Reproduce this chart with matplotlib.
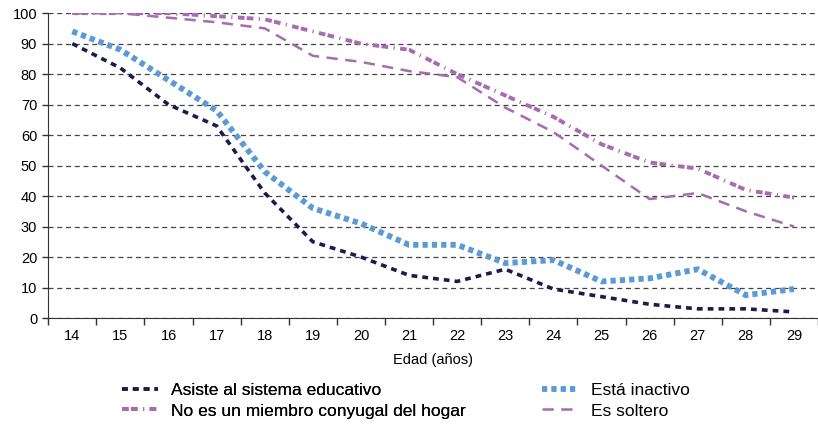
import matplotlib.pyplot as plt
import numpy as np

plt.rcParams['font.family'] = ['Liberation Sans', 'DejaVu Sans']

# Datos
edades = ['14', '15', '16', '17', '18', '19', '20', '21',
          '22', '23', '24', '25', '26', '27', '28', '29']
asiste = [90, 82, 70, 63, 41, 25, 20, 14, 12, 16, 9.5, 7, 4.5, 3, 3, 2]
inactivo = [94, 88, 78, 68, 48, 36, 31, 24, 24, 18, 19, 12, 13, 16, 7.5, 9.5]
no_conyugal = [100, 100, 100, 99, 98, 94, 90, 88, 80, 73, 66, 57, 51, 49, 42, 39.5]
soltero = [100, 100, 98.5, 97, 95, 86, 84, 81, 79, 69, 61, 50, 39, 41, 35, 30]

navy = '#1c1c4c'
blue = '#5b9bd5'
purple = '#a66bb0'

fig = plt.figure(figsize=(8.18, 4.24), dpi=100)
ax = fig.add_axes([0.059, 0.25, 0.941, 0.719])

x = np.arange(len(edades))
l1, = ax.plot(x, asiste, color=navy, lw=2.6, dashes=(1.6, 1.4))
l2, = ax.plot(x, inactivo, color=blue, lw=4.2, dashes=(0.9, 0.7))
l3, = ax.plot(x, no_conyugal, color=purple, lw=2.8, dashes=(1.7, 0.6, 1.7, 1.4, 0.3, 1.4))
l4, = ax.plot(x, soltero, color=purple, lw=1.8, dashes=(4.5, 3))

ax.set_xlim(-0.5, len(edades) - 0.5)
ax.set_ylim(0, 100)
ax.set_yticks(range(0, 101, 10))
ax.set_xticks(x)
ax.set_xticklabels(edades)
ax.set_xticks(np.arange(-0.5, len(edades)), minor=True)
ax.tick_params(axis='x', which='major', length=0, pad=8)
ax.tick_params(axis='x', which='minor', length=5, width=1, color='#333333')
ax.tick_params(axis='y', length=4, width=1, color='#333333', pad=4)
ax.tick_params(labelsize=10.5)

ax.grid(axis='y', color='#444444', lw=0.9, dashes=(4, 3))
ax.set_axisbelow(True)
for s in ['top', 'right']:
    ax.spines[s].set_visible(False)
ax.spines['left'].set_color('#333333')
ax.spines['bottom'].set_color('#333333')

ax.set_xlabel('Edad (años)', fontsize=10.5, labelpad=7)

leg_kw = dict(loc='upper left', frameon=False, fontsize=12.5, handlelength=2.1,
              labelspacing=0.3, handletextpad=0.75, borderpad=0, borderaxespad=0)
leg1 = fig.legend([l1, l3], ['Asiste al sistema educativo',
                             'No es un miembro conyugal del hogar'],
                  bbox_to_anchor=(122 / 818, 1 - 383 / 424), **leg_kw)
fig.add_artist(leg1)
fig.legend([l2, l4], ['Está inactivo', 'Es soltero'],
           bbox_to_anchor=(542 / 818, 1 - 383 / 424), **leg_kw)

fig.savefig('out.png', dpi=100)
